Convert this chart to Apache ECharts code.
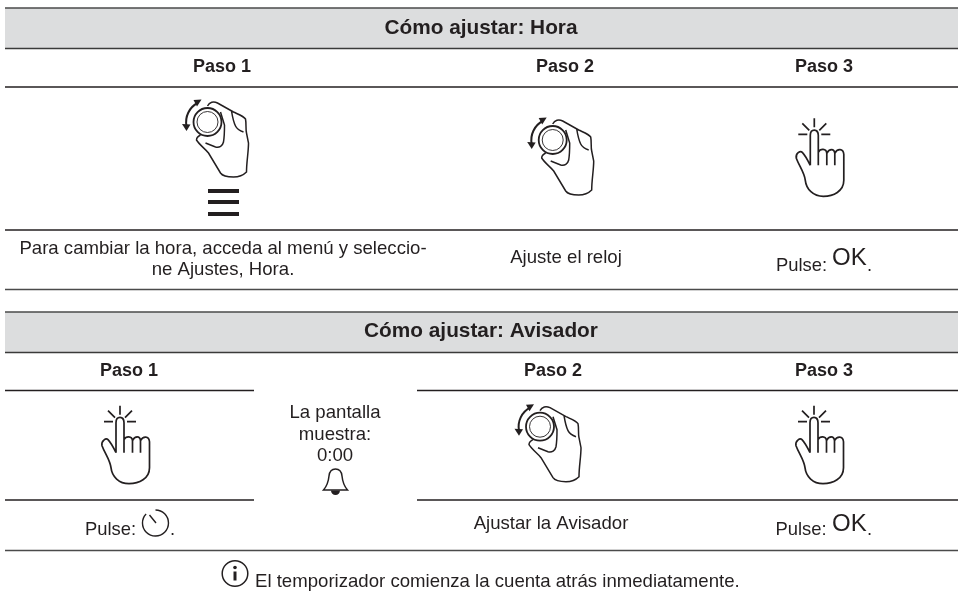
<!DOCTYPE html>
<html>
<head>
<meta charset="utf-8">
<title>Cómo ajustar</title>
<style>html,body{margin:0;padding:0;background:#fff}</style>
</head>
<body>
<div id="main" style="width:962px;height:599px;"></div>
<script src="https://cdn.jsdelivr.net/npm/echarts@6/dist/echarts.min.js"></script>
<script>
var titles = ['Cómo ajustar: Hora', 'Cómo ajustar: Avisador'];
var steps = ['Paso 1', 'Paso 2', 'Paso 3'];
var horaLines = ['Para cambiar la hora, acceda al menú y seleccio-', 'ne Ajustes, Hora.'];
var horaAjuste = 'Ajuste el reloj';
var avisoAjuste = 'Ajustar la Avisador';
var pantalla = ['La pantalla', 'muestra:', '0:00'];
var pulse = 'Pulse:';
var okText = 'OK';
var nota = 'El temporizador comienza la cuenta atrás inmediatamente.';

var ink = '#231f20';
var font = '"Liberation Sans", Arial, sans-serif';
var g = [];

function txt(s, x, y, size, bold, align) {
    g.push({
        type: 'text', x: x, y: y + 1, silent: true,
        style: {
            text: s, fill: ink, align: align || 'center', verticalAlign: 'middle',
            font: (bold ? 'bold ' : '') + size + 'px ' + font
        }
    });
}
function rule(x1, x2, y, w, col) {
    g.push({
        type: 'line', silent: true,
        shape: { x1: x1, y1: y, x2: x2, y2: y },
        style: { stroke: col || ink, lineWidth: w || 1.5 }
    });
}

// tabla 1
g.push({ type: 'rect', silent: true, shape: { x: 5, y: 8, width: 953, height: 40 }, style: { fill: '#dcddde' } });
rule(5, 958, 8, 1.5, '#4a4a4a');
rule(5, 958, 48.5, 1.5, '#3a3a3a');
rule(5, 958, 87, 1.5);
rule(5, 958, 230, 1.5);
rule(5, 958, 289.5, 1.5, '#4a4a4a');
txt(titles[0], 481, 27, 20.8, true);
txt(steps[0], 222, 66, 18, true);
txt(steps[1], 565, 66, 18, true);
txt(steps[2], 824, 66, 18, true);
txt(horaLines[0], 223, 248, 18.6);
txt(horaLines[1], 223, 269, 18.6);
txt(horaAjuste, 566, 257, 18.6);
txt(pulse, 776, 265, 18.4, false, 'left');
txt(okText, 832, 257, 24, false, 'left');
txt('.', 867, 265, 18.4, false, 'left');

// menu
g.push({ type: 'rect', silent: true, shape: { x: 208, y: 189, width: 31, height: 4 }, style: { fill: ink } });
g.push({ type: 'rect', silent: true, shape: { x: 208, y: 200, width: 31, height: 4 }, style: { fill: ink } });
g.push({ type: 'rect', silent: true, shape: { x: 208, y: 212, width: 31, height: 4 }, style: { fill: ink } });

// tabla 2
g.push({ type: 'rect', silent: true, shape: { x: 5, y: 312, width: 953, height: 40 }, style: { fill: '#dcddde' } });
rule(5, 958, 312, 1.5, '#4a4a4a');
rule(5, 958, 352.5, 1.5, '#3a3a3a');
rule(5, 254, 390.5, 1.5);
rule(417, 958, 390.5, 1.5);
rule(5, 254, 500, 1.5);
rule(417, 958, 500, 1.5);
rule(5, 958, 550.5, 1.5, '#4a4a4a');
txt(titles[1], 481, 330.5, 20.8, true);
txt(steps[0], 129, 370, 18, true);
txt(steps[1], 553, 370, 18, true);
txt(steps[2], 824, 370, 18, true);
txt(pantalla[0], 335, 412, 18.6);
txt(pantalla[1], 335, 434, 18.6);
txt(pantalla[2], 335, 454.5, 18.6);
txt(pulse, 85, 528.5, 18.4, false, 'left');
txt('.', 170, 528.5, 18.4, false, 'left');
txt(avisoAjuste, 551, 523, 18.6);
txt(pulse, 775.5, 528.5, 18.4, false, 'left');
txt(okText, 832, 523, 24, false, 'left');
txt('.', 867, 528.5, 18.4, false, 'left');
txt(nota, 255, 580.5, 18.6, false, 'left');

// iconos, dibujados en coordenadas locales
var handKnob = 'M0 -16C2 -20 6 -21 10 -19L26 -10C30 -8 36 -6 38 -3C39 2 38 7 39 11L41 21C41 30 39 40 39 50C35 54 30 55 26 55C20 55 15 54 13 51L1 31C-2 27 -8 23 -11 18C-11 16 -9 14 -7 13'
    + 'M-2 21L8 25C12 26 15 24 16 20C17 14 17 9 17 3L13 -10M24 -11C25 -5 26 0 28 4C30 8 33 9 36 10';
var clickHand = 'M-4 31L-4 1C-4 -6 4 -6 4 1L4 31M4 18C6 14 12 14 12.5 19L12.5 31M12.5 19C15 14 20 14 20.5 19L20.5 31M20.5 19C23 14 29 14 29.5 20L29.5 46'
    + 'C29.5 57 19 62 9 62C-1 62 -8 55 -9 46C-10 38 -15 32 -18 24C-19 19 -14 16 -12 18C-9 21 -6 27 -4 31'
    + 'M0 -16L0 -7M-16 0L-7 0M7 0L16 0M-12 -11L-5 -4M12 -11L5 -4';

function lineIcon(d, x, y, w) {
    return { type: 'path', x: x, y: y, silent: true, shape: { pathData: d }, style: { fill: 'none', stroke: ink, lineWidth: w || 1.5 } };
}
function knobIcon(x, y) {
    return [
        lineIcon(handKnob, x, y),
        { type: 'circle', silent: true, shape: { cx: x, cy: y, r: 14 }, style: { fill: '#fff', stroke: ink, lineWidth: 1.8 } },
        { type: 'circle', silent: true, shape: { cx: x, cy: y, r: 10.5 }, style: { fill: 'none', stroke: ink, lineWidth: 0.9 } },
        lineIcon('M-10 -19A21.5 21.5 0 0 0 -21 4', x, y, 2),
        { type: 'path', x: x, y: y, silent: true, shape: { pathData: 'M-6 -22.5L-14 -22L-10.5 -15.5Z' }, style: { fill: ink } },
        { type: 'path', x: x, y: y, silent: true, shape: { pathData: 'M-21 9L-25.5 2L-17 2.5Z' }, style: { fill: ink } }
    ];
}
function iconElements() {
    var out = [];
    out = out.concat(knobIcon(207.5, 122), knobIcon(552.7, 140), knobIcon(540, 426.7));
    out.push(lineIcon(clickHand, 814.3, 134.3, 1.7));
    out.push(lineIcon(clickHand, 120, 421.7, 1.7));
    out.push(lineIcon(clickHand, 814, 421.7, 1.7));
    // campana
    out.push(lineIcon('M-12 8C-8.5 4 -7 -1 -6.5 -6C-6 -10.5 -3.5 -13 0 -13C3.5 -13 6 -10.5 6.5 -6C7 -1 8.5 4 12 8Z', 335.5, 482, 1.5));
    out.push({ type: 'path', x: 335.5, y: 482, silent: true, shape: { pathData: 'M-4.5 8.5A4.5 4.5 0 0 0 4.5 8.5Z' }, style: { fill: ink } });
    // temporizador
    out.push(lineIcon('M0 -13A13 13 0 1 1 -9.4 -9M-6 -8L0.5 0', 155.5, 523, 1.4));
    // info
    out.push({ type: 'circle', silent: true, shape: { cx: 235, cy: 573.5, r: 12.8 }, style: { fill: 'none', stroke: ink, lineWidth: 1.5 } });
    out.push({ type: 'rect', silent: true, shape: { x: 233.5, y: 571.5, width: 3, height: 9 }, style: { fill: ink } });
    out.push({ type: 'circle', silent: true, shape: { cx: 235, cy: 567.5, r: 1.8 }, style: { fill: ink } });
    return out;
}

var myChart = echarts.init(document.getElementById('main'), null, { renderer: 'canvas' });
myChart.setOption({
    animation: false,
    backgroundColor: '#fff',
    graphic: { elements: g },
    series: [{
        type: 'custom',
        coordinateSystem: 'none',
        silent: true,
        data: [0],
        renderItem: function () {
            return { type: 'group', children: iconElements() };
        }
    }]
});
</script>
</body>
</html>
